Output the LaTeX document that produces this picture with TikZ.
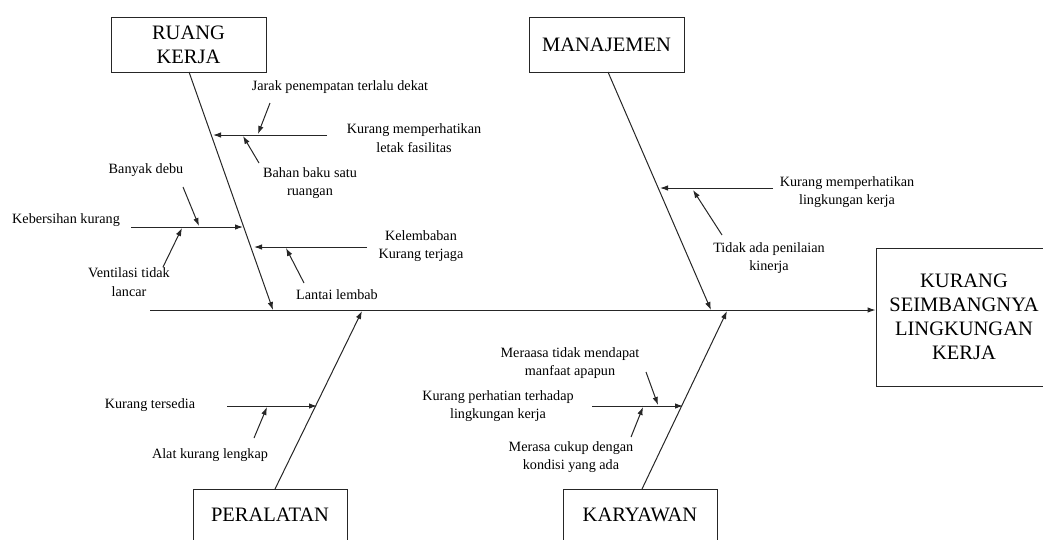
\documentclass[tikz,border=0pt]{standalone}
\usepackage{fontspec}
\setmainfont{Liberation Serif}
\usetikzlibrary{arrows.meta}
\begin{document}
\begin{tikzpicture}[x=1pt,y=-1pt,
  box/.style={draw=black!85,line width=0.9pt,inner sep=0pt,align=center,font=\fontsize{20.5}{24}\selectfont},
  lbl/.style={inner sep=0pt,align=center,font=\fontsize{14.2}{18.5}\selectfont},
  ln/.style={line width=1pt,draw=black!85},
  arr/.style={ln,-{Latex[length=8pt,width=5.5pt]}}]
\useasboundingbox (0,0) rectangle (1043,539);
% category boxes
\node[box,minimum width=155pt,minimum height=55pt] (rk) at (188.5,44.5) {RUANG\\KERJA};
\node[box,minimum width=155pt,minimum height=55pt] (mj) at (606.5,44.5) {MANAJEMEN};
\node[box,minimum width=154pt,minimum height=52pt] (pe) at (270,515) {PERALATAN};
\node[box,minimum width=154pt,minimum height=52pt] (ka) at (640,515) {KARYAWAN};
\node[box,minimum width=176pt,minimum height=138pt] (ef) at (964,317) {KURANG\\SEIMBANGNYA\\LINGKUNGAN\\KERJA};
% main line
\coordinate (m0) at (150,310);
\draw[arr] (m0) -- (m0 -| ef.west);
% spines
\coordinate (rkT) at (189,72);
\coordinate (rkE) at (273,310);
\coordinate (mjT) at (608,72);
\coordinate (mjE) at (711,310);
\coordinate (peB) at (275,489);
\coordinate (peE) at (362,311);
\coordinate (kaB) at (642,489);
\coordinate (kaE) at (727,311);
\draw[arr] (rkT) -- (rkE);
\draw[arr] (mjT) -- (mjE);
\draw[arr] (peB) -- (peE);
\draw[arr] (kaB) -- (kaE);
% ---------- RUANG KERJA ----------
\node[lbl] (jarak) at (340,87) {Jarak penempatan terlalu dekat};
\node[lbl] (letak) at (414,138) {Kurang memperhatikan\\letak fasilitas};
\node[lbl] (bahan) at (310,183) {Bahan baku satu\\ruangan};
\node[lbl] (lembab) at (421,246) {Kelembaban\\Kurang terjaga};
\node[lbl] (lantai) at (337,295) {Lantai lembab};
\node[lbl,anchor=west] (bersih) at (12,220) {Kebersihan kurang};
\node[lbl] (debu) at (146,170) {Banyak debu};
\node[lbl] (venti) at (129,282) {Ventilasi tidak\\lancar};
\coordinate (c1s) at (327,135); \coordinate (c1e) at (213,135);
\coordinate (c1a) at (270,103); \coordinate (c1b) at (258,134);
\coordinate (c1c) at (259,163); \coordinate (c1d) at (243,136);
\draw[arr] (c1s) -- (c1e);
\draw[arr] (c1a) -- (c1b);
\draw[arr] (c1c) -- (c1d);
\coordinate (c2s) at (367,247); \coordinate (c2e) at (254,247);
\coordinate (c2a) at (304,283); \coordinate (c2b) at (286,248);
\draw[arr] (c2s) -- (c2e);
\draw[arr] (c2a) -- (c2b);
\coordinate (c3s) at (131,227); \coordinate (c3e) at (243,227);
\coordinate (c3a) at (183,187); \coordinate (c3b) at (199,226);
\coordinate (c3c) at (163,267); \coordinate (c3d) at (182,228);
\draw[arr] (c3s) -- (c3e);
\draw[arr] (c3a) -- (c3b);
\draw[arr] (c3c) -- (c3d);
% ---------- MANAJEMEN ----------
\node[lbl] (ling) at (847,192) {Kurang memperhatikan\\lingkungan kerja};
\node[lbl] (nilai) at (769,258) {Tidak ada penilaian\\kinerja};
\coordinate (c4s) at (773,188); \coordinate (c4e) at (660,188);
\coordinate (c4a) at (722,235); \coordinate (c4b) at (693,190);
\draw[arr] (c4s) -- (c4e);
\draw[arr] (c4a) -- (c4b);
% ---------- PERALATAN ----------
\node[lbl] (sedia) at (150,405) {Kurang tersedia};
\node[lbl] (alat) at (210,455) {Alat kurang lengkap};
\coordinate (c5s) at (227,406); \coordinate (c5e) at (317,406);
\coordinate (c5a) at (254,438); \coordinate (c5b) at (267,407);
\draw[arr] (c5s) -- (c5e);
\draw[arr] (c5a) -- (c5b);
% ---------- KARYAWAN ----------
\node[lbl] (manfaat) at (570,363) {Meraasa tidak mendapat\\manfaat apapun};
\node[lbl] (perhati) at (498,406) {Kurang perhatian terhadap\\lingkungan kerja};
\node[lbl] (cukup) at (571,457) {Merasa cukup dengan\\kondisi yang ada};
\coordinate (c6s) at (592,406); \coordinate (c6e) at (683,406);
\coordinate (c6a) at (646,372); \coordinate (c6b) at (658,405);
\coordinate (c6c) at (631,437); \coordinate (c6d) at (643,407);
\draw[arr] (c6s) -- (c6e);
\draw[arr] (c6a) -- (c6b);
\draw[arr] (c6c) -- (c6d);
\end{tikzpicture}
\end{document}
